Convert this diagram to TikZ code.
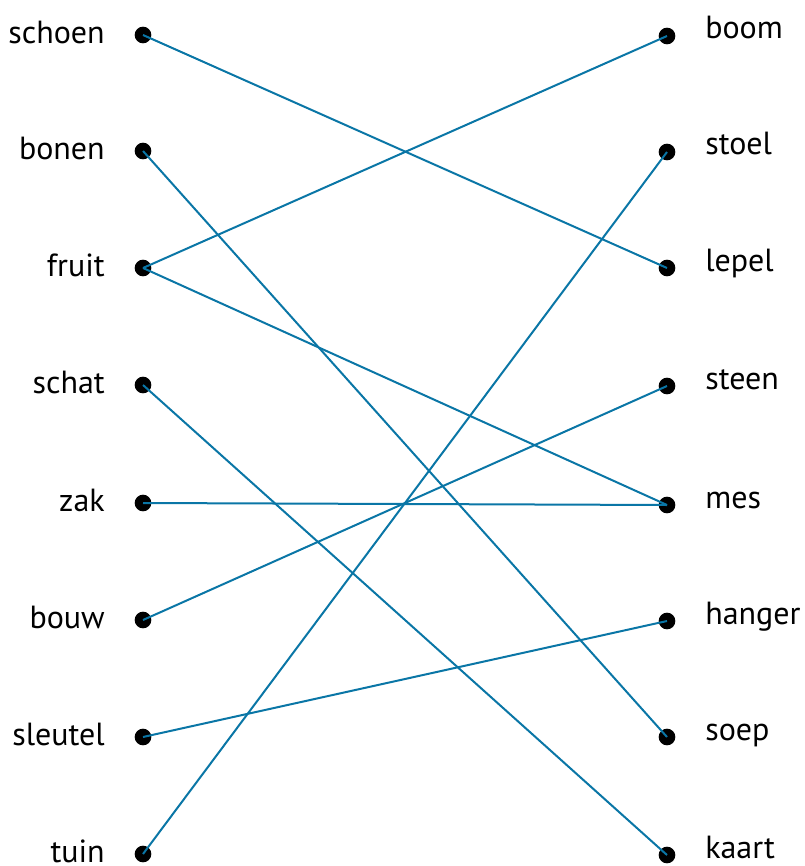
\documentclass[tikz,border=0pt]{standalone}
\usepackage{fontspec}
\setmainfont{PT Sans}
\definecolor{linkblue}{RGB}{10,118,166}
\begin{document}
\begin{tikzpicture}[x=0.75pt,y=-0.75pt,
  dot/.style={circle,fill=black,inner sep=0pt,minimum size=12.5pt},
  link/.style={draw=linkblue,line width=1.5pt},
  lword/.style={anchor=base east,inner sep=0pt,font=\fontsize{24}{27}\selectfont},
  rword/.style={anchor=base west,inner sep=0pt,font=\fontsize{24}{27}\selectfont}]
\useasboundingbox (0,0) rectangle (805,866);
% left column
\foreach \n/\w/\y in {L1/schoen/35,L2/bonen/151,L3/fruit/268,L4/schat/385,L5/zak/503,L6/bouw/620,L7/sleutel/737,L8/tuin/854}{
  \node[dot] (\n) at (143,\y) {};
  \node[lword] (\n t) at (105,\y+8.5) {\w};
}
% right column
\foreach \n/\w/\y in {R1/boom/36,R2/stoel/152,R3/lepel/268,R4/steen/386,R5/mes/505,R6/hanger/621,R7/soep/737,R8/kaart/855}{
  \node[dot] (\n) at (667,\y) {};
  \node[rword] (\n t) at (705,\y+3) {\w};
}
\draw[link] (L1.center) -- (R3.center);
\draw[link] (L2.center) -- (R7.center);
\draw[link] (L3.center) -- (R1.center);
\draw[link] (L3.center) -- (R5.center);
\draw[link] (L4.center) -- (R8.center);
\draw[link] (L5.center) -- (R5.center);
\draw[link] (L6.center) -- (R4.center);
\draw[link] (L7.center) -- (R6.center);
\draw[link] (L8.center) -- (R2.center);
\end{tikzpicture}
\end{document}
